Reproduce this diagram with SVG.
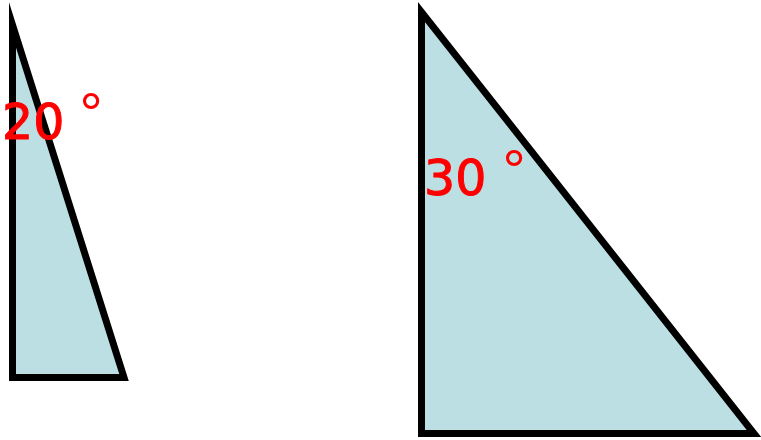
<svg xmlns="http://www.w3.org/2000/svg" width="761" height="440" viewBox="0 0 761 440">
<style>
.tri{fill:#bbdfe2;stroke:#000;stroke-width:7;stroke-linejoin:miter;stroke-miterlimit:10}
.lbl{fill:#ff0000;stroke:#ff0000;stroke-width:1;font-family:"DejaVu Sans",sans-serif;font-size:49px}
.deg{fill:#ff0000;font-family:"Liberation Sans",Arial,sans-serif;font-size:58px;text-anchor:middle}
</style>
<rect width="761" height="440" fill="#fff"/>
<g id="triangle-left">
<polygon class="tri" points="12.5,25 12.5,377.5 124,377.5"/>
<text class="lbl" x="2" y="139">20</text>
<text class="deg" x="91" y="133">°</text>
</g>
<g id="triangle-right">
<polygon class="tri" points="421.5,12 421.5,433.5 754,433.5"/>
<text class="lbl" x="424" y="195">30</text>
<text class="deg" x="514" y="190">°</text>
</g>
</svg>
